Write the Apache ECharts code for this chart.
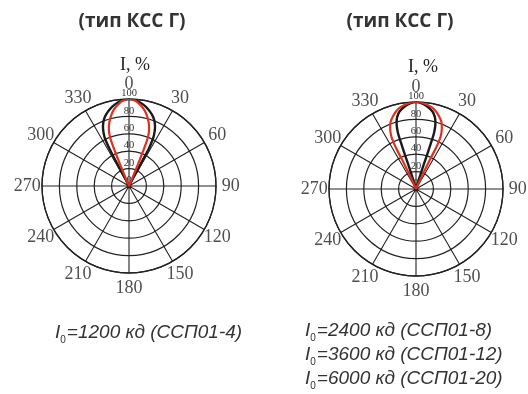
<!DOCTYPE html>
<html><head><meta charset="utf-8">
<script src="https://cdn.jsdelivr.net/npm/echarts@6/dist/echarts.min.js"></script>
<style>html,body{margin:0;padding:0;background:#fff}#c{width:528px;height:394px}</style>
</head><body><div id="c"></div>
<script>
// Angle tick values/labels (degrees) and radius tick values (I, %)
const angleTicks = [0, 30, 60, 90, 120, 150, 180, 210, 240, 270, 300, 330];
const angleTickLabels = ['0','30','60','90','120','150','180','210','240','270','300','330'];
const radiusTicks = [0, 20, 40, 60, 80, 100];

// Left chart (I0=1200 кд): black (wider) and red (narrower) curves; angles in degrees
const leftBlackAngles = [333, 332.5, 332, 332, 332.3, 333, 334.5, 336.5, 339, 342, 346, 350, 355, 0, 5, 10, 14, 18, 21, 23.5, 25.5, 27, 28, 28, 28, 27.5, 27];
const leftBlackValues = [0, 9, 21, 34, 47, 60, 68, 75, 81, 86, 91, 95, 98.5, 100, 98.5, 95, 91, 86, 81, 75, 68, 60, 47, 34, 21, 9, 0];
const leftRedAngles = [336, 337, 337.5, 337.7, 338, 338.5, 339.5, 341, 343, 345.5, 348.5, 352, 356, 0, 4, 8, 11.5, 14.5, 17, 19, 20.5, 21.5, 22, 22.3, 22.5, 23, 24];
const leftRedValues = [0, 8, 20, 32, 45, 57, 65, 71, 77, 83, 89, 94, 98.5, 100, 98.5, 94, 89, 83, 77, 71, 65, 57, 45, 32, 20, 8, 0];

// Right chart (I0=2400/3600/6000 кд): red (wider) and black (narrower) curves
const rightRedAngles = [336, 335.5, 335, 334.5, 334, 334.5, 335.5, 337, 339, 342, 345.5, 349.5, 355, 0, 5, 10.5, 14.5, 18, 21, 23, 24.5, 25.5, 26, 25.5, 25, 24.5, 24];
const rightRedValues = [0, 16, 28, 40, 52, 64, 70, 76, 82, 87, 92, 96, 99, 100, 99, 96, 92, 87, 82, 76, 70, 64, 52, 40, 28, 16, 0];
const rightBlackAngles = [344, 343, 342.5, 342.2, 342, 342, 342.2, 342.8, 343.8, 345.5, 348, 351.5, 356, 0, 4, 8.5, 12, 14.5, 16.2, 17.2, 17.8, 18, 18, 17.8, 17.5, 17, 16];
const rightBlackValues = [0, 14, 26, 38, 50, 62, 68, 74, 80, 86, 91, 95, 98.5, 100, 98.5, 95, 91, 86, 80, 74, 68, 62, 50, 38, 26, 14, 0];

function pairs(vals, angs) {
  return vals.map((v, i) => [v, angs[i]]);
}

const gridColor = '#222';
const LABEL_R = 117; // radial position of the angle labels, in radius-axis units (outside the 100 ring)

function angleAxis(idx) {
  return {
    polarIndex: idx, type: 'value', min: 0, max: 360, interval: 30,
    startAngle: 90, clockwise: true,
    axisLine: {show: true, lineStyle: {color: gridColor, width: 1.3}},
    axisTick: {show: false},
    axisLabel: {show: false},
    splitLine: {show: true, lineStyle: {color: gridColor, width: 1.1}}
  };
}
function radiusAxis(idx) {
  return {
    polarIndex: idx, type: 'value', min: radiusTicks[0], max: radiusTicks[radiusTicks.length - 1], interval: 20,
    axisLine: {show: false}, axisTick: {show: false},
    axisLabel: {
      margin: 0, align: 'center', verticalAlign: 'bottom', showMinLabel: true, showMaxLabel: true,
      color: '#333', fontFamily: 'Liberation Serif', fontSize: 10.5
    },
    splitLine: {show: true, lineStyle: {color: gridColor, width: 1.2}}
  };
}
function curve(idx, data, color, width) {
  return {
    type: 'line', coordinateSystem: 'polar', polarIndex: idx, data: data,
    showSymbol: false, smooth: 0.2, animation: false, silent: true,
    lineStyle: {color: color, width: width}
  };
}
function angleLabels(idx) {
  return {
    type: 'scatter', coordinateSystem: 'polar', polarIndex: idx, clip: false,
    symbolSize: 0, silent: true, animation: false,
    data: angleTicks.map(a => [LABEL_R, a]),
    label: {
      show: true, position: 'inside', color: '#222',
      fontFamily: 'Liberation Serif', fontSize: 18,
      formatter: p => angleTickLabels[p.dataIndex]
    }
  };
}

const bottomRich = {
  i: {fontFamily: 'Liberation Sans', fontStyle: 'italic', fontWeight: 'normal', fontSize: 19, color: '#333'},
  s: {fontFamily: 'Liberation Sans', fontWeight: 'normal', fontSize: 10, color: '#333', verticalAlign: 'bottom', padding: [0, 1, 0, 0]}
};

const option = {
  animation: false,
  backgroundColor: '#fff',
  title: [
    {text: '(тип КСС Г)', left: 132, top: 12, textAlign: 'center', padding: 0,
     textStyle: {fontFamily: 'Open Sans', fontWeight: 'bold', fontSize: 19, color: '#333'}},
    {text: '(тип КСС Г)', left: 400, top: 12, textAlign: 'center', padding: 0,
     textStyle: {fontFamily: 'Open Sans', fontWeight: 'bold', fontSize: 19, color: '#333'}},
    {text: 'I, %', left: 135, top: 56, textAlign: 'center', padding: 0,
     textStyle: {fontFamily: 'Liberation Serif', fontWeight: 'normal', fontSize: 18, color: '#222'}},
    {text: 'I, %', left: 423, top: 58, textAlign: 'center', padding: 0,
     textStyle: {fontFamily: 'Liberation Serif', fontWeight: 'normal', fontSize: 18, color: '#222'}},
    {text: '{i|I}{s|0}{i|=1200 кд (ССП01-4)}', left: 55, top: 321, padding: 0,
     textStyle: {rich: bottomRich, fontWeight: 'normal', lineHeight: 24}},
    {text: '{i|I}{s|0}{i|=2400 кд (ССП01-8)}\n{i|I}{s|0}{i|=3600 кд (ССП01-12)}\n{i|I}{s|0}{i|=6000 кд (ССП01-20)}',
     left: 305, top: 319, padding: 0,
     textStyle: {rich: bottomRich, fontWeight: 'normal', lineHeight: 24}}
  ],
  polar: [
    {center: [129, 186], radius: 87},
    {center: [416, 189], radius: 87}
  ],
  angleAxis: [angleAxis(0), angleAxis(1)],
  radiusAxis: [radiusAxis(0), radiusAxis(1)],
  series: [
    curve(0, pairs(leftBlackValues, leftBlackAngles), '#1a1a1a', 2.4),
    curve(0, pairs(leftRedValues, leftRedAngles), '#e2301f', 2.2),
    curve(1, pairs(rightBlackValues, rightBlackAngles), '#1a1a1a', 2.4),
    curve(1, pairs(rightRedValues, rightRedAngles), '#e2301f', 2.2),
    angleLabels(0),
    angleLabels(1)
  ]
};
echarts.init(document.getElementById('c'), null, {renderer: 'canvas'}).setOption(option);
</script></body></html>
